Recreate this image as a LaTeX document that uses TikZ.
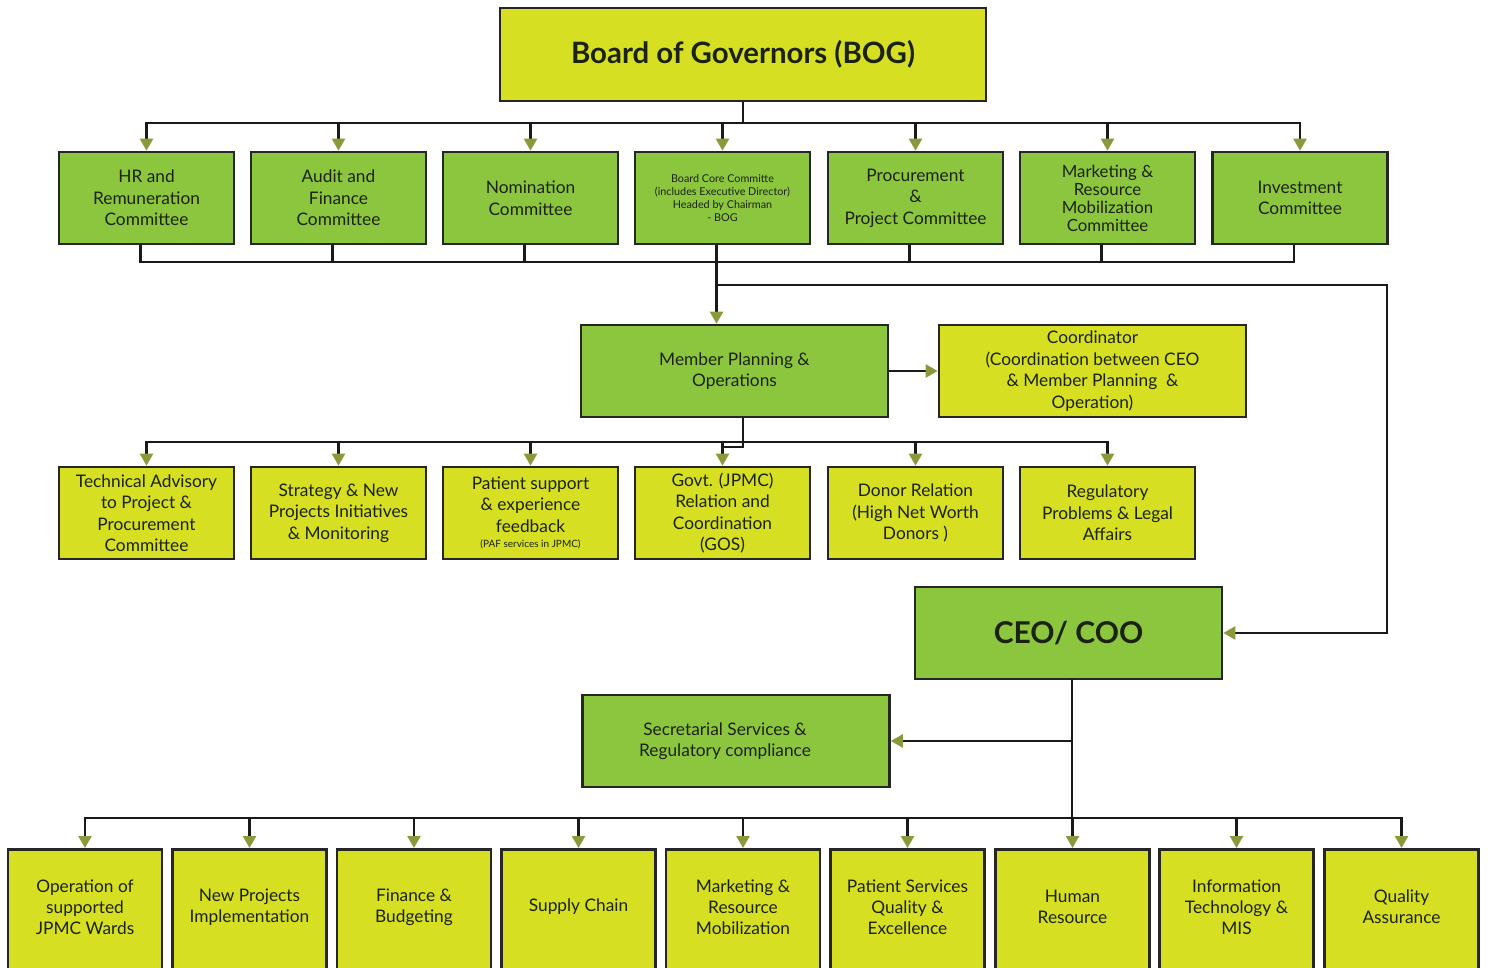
\documentclass[tikz,border=0pt]{standalone}
\usepackage{fontspec}
\setmainfont{Lato}
\usetikzlibrary{arrows.meta}
\definecolor{gfill}{RGB}{140,198,63}
\definecolor{yfill}{RGB}{215,223,35}
\definecolor{tipc}{RGB}{138,154,59}
\definecolor{txtc}{RGB}{28,34,18}
\begin{document}
\begin{tikzpicture}[x=1pt,y=-1pt,
 box/.style={draw=black!85, line width=2.6pt, minimum width=175pt, minimum height=92pt, inner sep=2pt, align=center, text=txtc, font=\fontsize{17.3}{21.5}\selectfont},
 gbox/.style={box, fill=gfill},
 ybox/.style={box, fill=yfill},
 wbox/.style={minimum width=307pt},
 bbox/.style={box, fill=yfill, minimum width=154pt, minimum height=142pt, anchor=north},
 btxt/.style={align=center, text=txtc, font=\fontsize{17.3}{21}\selectfont, inner sep=0pt},
 con/.style={line width=2.4pt, draw=black!90},
 arr/.style={con, -{Triangle[length=12pt,width=13pt,color=tipc]}},
]
\useasboundingbox (0,0) rectangle (1490,968);
\clip (0,0) rectangle (1490,968);

% Board
\node[ybox, minimum width=486pt, minimum height=93pt, font=\fontsize{29.4}{33}\selectfont\bfseries] (bog) at (743,54.5) {Board of Governors (BOG)};

% Row 1
\node[gbox] (r1a) at (146.5,198) {HR and\\Remuneration\\Committee};
\node[gbox] (r1b) at (338.5,198) {Audit and\\Finance\\Committee};
\node[gbox] (r1c) at (530.5,198) {Nomination\\Committee};
\node[gbox, font=\fontsize{10.8}{13}\selectfont] (r1d) at (722.5,198) {Board Core Committe\\(includes Executive Director)\\Headed by Chairman\\- BOG};
\node[gbox] (r1e) at (915.5,198) {Procurement\\\&\\Project Committee};
\node[gbox, font=\fontsize{16.8}{18}\selectfont] (r1f) at (1107.5,198) {Marketing \&\\Resource\\Mobilization\\Committee};
\node[gbox] (r1g) at (1300,198) {Investment\\Committee};

\foreach \n in {r1a,r1b,r1c,r1d,r1e,r1f,r1g}
  \draw[arr] (bog.south) -- ++(0,21) -| (\n.north);

% Row 1 collector
\coordinate (j0) at (716.5,262);
\coordinate (j1) at (716.5,285);
\coordinate (rt) at (1387,285);
\foreach \n in {r1a,r1b,r1c,r1e,r1f,r1g}
  \draw[con] ([xshift=-6pt]\n.south) |- (j0);
\node[gbox, wbox] (mp) at (734.5,371) {Member Planning \&\\Operations};
\draw[arr] ([xshift=-6pt]r1d.south) -- ([xshift=-6pt]r1d.south |- mp.north);

% Coordinator
\node[ybox, wbox] (coord) at (1092.5,371) {Coordinator\\(Coordination between CEO\\\& Member Planning~~\&\\Operation)};
\draw[arr] (mp.east) -- (coord.west);

% CEO
\node[gbox, wbox, font=\fontsize{30}{34}\selectfont\bfseries] (ceo) at (1068.5,633) {CEO/ COO};
\draw[arr] (j1) -- (rt) |- (ceo.east);

% Row 2
\node[ybox] (r2a) at (146.5,513) {Technical Advisory\\to Project \&\\Procurement\\Committee};
\node[ybox] (r2b) at (338.5,513) {Strategy \& New\\Projects Initiatives\\\& Monitoring};
\node[ybox] (r2c) at (530.5,513) {Patient support\\\& experience\\feedback\\[-6pt]{\fontsize{10}{11}\selectfont (PAF services in JPMC)}};
\node[ybox] (r2d) at (722.5,513) {Govt. (JPMC)\\Relation and\\Coordination\\(GOS)};
\node[ybox] (r2e) at (915.5,513) {Donor Relation\\(High Net Worth\\Donors )};
\node[ybox] (r2f) at (1107.5,513) {Regulatory\\Problems \& Legal\\Affairs};

\coordinate (mpb) at (723,447);
\draw[con] ([xshift=8.5pt]mp.south) |- (mpb);
\foreach \n in {r2a,r2b,r2c,r2d,r2e,r2f}
  \draw[arr] (mpb) -- ++(0,-5) -| (\n.north);

% Secretarial
\node[gbox, wbox] (sec) at (736,741) {Secretarial Services \&\hspace*{22pt}\\Regulatory compliance\hspace*{22pt}};
\coordinate (ceoout) at (1072,679);
\coordinate (bus) at (0,818);
\draw[arr] (ceoout) |- (sec.east);

% Bottom row
\node[bbox] (b1) at (85,848) {};
\node[bbox] (b2) at (249.5,848) {};
\node[bbox] (b3) at (414,848) {};
\node[bbox] (b4) at (578.5,848) {};
\node[bbox] (b5) at (743,848) {};
\node[bbox] (b6) at (907.5,848) {};
\node[bbox] (b7) at (1072.5,848) {};
\node[bbox] (b8) at (1236.5,848) {};
\node[bbox] (b9) at (1401.5,848) {};
\foreach \n in {b1,b2,b3,b4,b5,b6,b7,b8,b9}
  \draw[arr] (ceoout) -- (ceoout |- bus) -| (\n.north);

\node[btxt] (t1) at (85,907) {Operation of\\supported\\JPMC Wards};
\node[btxt] (t2) at (249.5,907) {New Projects\\Implementation};
\node[btxt] (t3) at (414,907) {Finance \&\\Budgeting};
\node[btxt] (t4) at (578.5,907) {Supply Chain};
\node[btxt] (t5) at (743,907) {Marketing \&\\Resource\\Mobilization};
\node[btxt] (t6) at (907.5,907) {Patient Services\\Quality \&\\Excellence};
\node[btxt] (t7) at (1072.5,907) {Human\\Resource};
\node[btxt] (t8) at (1236.5,907) {Information\\Technology \&\\MIS};
\node[btxt] (t9) at (1401.5,907) {Quality\\Assurance};
\end{tikzpicture}
\end{document}
